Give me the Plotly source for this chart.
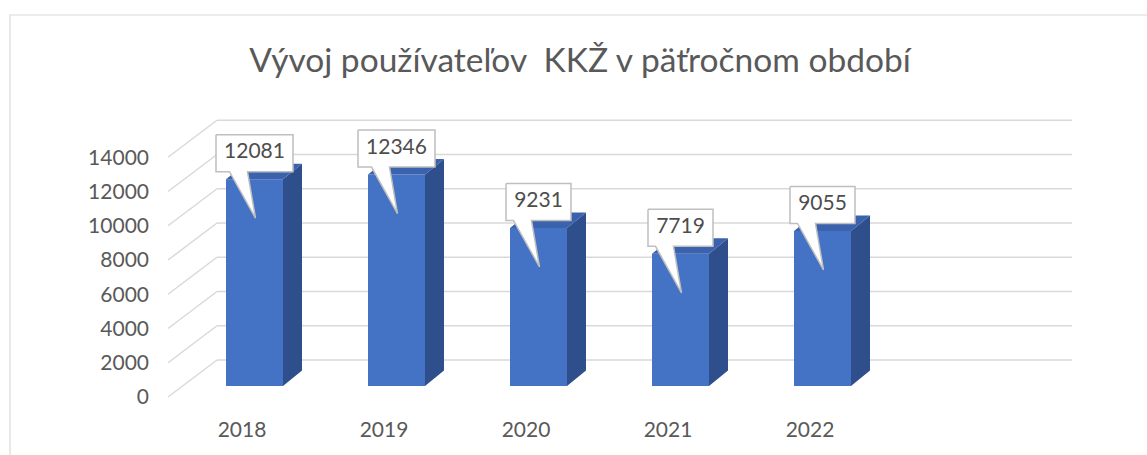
import plotly.graph_objects as go

# ---- data ----
categories = ["2018", "2019", "2020", "2021", "2022"]
values = [12081, 12346, 9231, 7719, 9055]
y_ticks = [0, 2000, 4000, 6000, 8000, 10000, 12000, 14000]
title_text = "Vývoj používateľov  KKŽ v päťročnom období"

# ---- geometry (pixel-derived layout constants) ----
W, H = 1147, 455
PX_PER_CAT = 142.0          # pixels per category unit
UNITS_PER_PX = 58.4         # value units per pixel
X0_PX = 254.5               # pixel x of category 0 centre
Y0_PX = 386.0               # pixel y of value 0 at bar front plane
PLOT_L, PLOT_R, PLOT_T, PLOT_B = 150, 1080, 100, 415

def xu(px):  # pixel distance -> x units
    return px / PX_PER_CAT

def yu(px):  # pixel distance -> y units
    return px * UNITS_PER_PX

x_range = [(PLOT_L - X0_PX) / PX_PER_CAT, (PLOT_R - X0_PX) / PX_PER_CAT]
y_range = [(Y0_PX - PLOT_B) * UNITS_PER_PX, (Y0_PX - PLOT_T) * UNITS_PER_PX]

HALF_W = xu(28.5)           # half bar width
SDX, SDY = xu(19), yu(15.5) # depth offset of bar
BACK_DY = yu(26)            # back wall offset
BACK_X0 = xu(217 - X0_PX)
BACK_X1 = xu(1072 - X0_PX)
FRONT_DY = -yu(11)          # front floor edge offset
FRONT_X0 = xu(168 - X0_PX)
CAT_LABEL_DX = xu(-12.5)

FRONT_C = "#4472C4"
SIDE_C = "#2E4F8C"
TOP_C = "#3A62AD"
GRID_C = "#D9D9D9"
TEXT_C = "#595959"
FONT = "Lato"

idx = list(range(len(categories)))

fig = go.Figure()

# front faces
fig.add_trace(go.Bar(x=idx, y=values, width=2 * HALF_W,
                     marker=dict(color=FRONT_C, line=dict(width=0)),
                     hoverinfo="skip", showlegend=False))

# side faces and top faces
sx, sy, tx, ty = [], [], [], []
for i, v in zip(idx, values):
    r = i + HALF_W
    l = i - HALF_W
    sx += [r, r + SDX, r + SDX, r, r, None]
    sy += [0, SDY, v + SDY, v, 0, None]
    tx += [l, r, r + SDX, l + SDX, l, None]
    ty += [v, v, v + SDY, v + SDY, v, None]
fig.add_trace(go.Scatter(x=sx, y=sy, mode="lines", fill="toself",
                         fillcolor=SIDE_C, line=dict(width=0, color=SIDE_C),
                         hoverinfo="skip", showlegend=False))
fig.add_trace(go.Scatter(x=tx, y=ty, mode="lines", fill="toself",
                         fillcolor=TOP_C, line=dict(width=0, color=TOP_C),
                         hoverinfo="skip", showlegend=False))

# callouts
cx, cy = [], []
for i, v in zip(idx, values):
    txt = str(v)
    hw = xu((12 * len(txt) + 17) / 2)
    top = v + yu(26 + 18.5)
    bot = v + yu(26 - 18.5)
    cx += [i - hw, i + hw, i + hw, i - xu(7), i + xu(1), i - xu(25), i - hw, i - hw, None]
    cy += [top, top, bot, bot, v - yu(39), bot, bot, top, None]
fig.add_trace(go.Scatter(x=cx, y=cy, mode="lines", fill="toself",
                         fillcolor="white", line=dict(width=1.5, color="#BFBFBF"),
                         hoverinfo="skip", showlegend=False))
fig.add_trace(go.Scatter(x=idx, y=[v + yu(26) for v in values], mode="text",
                         text=[str(v) for v in values], textposition="middle center",
                         textfont=dict(family=FONT, size=21, color="#4D4D4D"),
                         hoverinfo="skip", showlegend=False))

# back wall gridlines and side wall diagonals
shapes = []
for t in y_ticks:
    shapes.append(dict(type="line", xref="x", yref="y", layer="below",
                       x0=BACK_X0, x1=BACK_X1, y0=t + BACK_DY, y1=t + BACK_DY,
                       line=dict(color=GRID_C, width=1.5)))
    shapes.append(dict(type="line", xref="x", yref="y", layer="below",
                       x0=FRONT_X0, x1=BACK_X0, y0=t + FRONT_DY, y1=t + BACK_DY,
                       line=dict(color=GRID_C, width=1.5)))

# chart frame
pw, ph = PLOT_R - PLOT_L, PLOT_B - PLOT_T
shapes.append(dict(type="rect", xref="paper", yref="paper", layer="below",
                   x0=(10 - PLOT_L) / pw, x1=(W + 10 - PLOT_L) / pw,
                   y0=(PLOT_B - (H + 10)) / ph, y1=(PLOT_B - 15) / ph,
                   line=dict(color="#D9D9D9", width=1.2), fillcolor="rgba(0,0,0,0)"))

fig.update_layout(
    width=W, height=H,
    margin=dict(l=PLOT_L, r=W - PLOT_R, t=PLOT_T, b=H - PLOT_B, pad=0),
    paper_bgcolor="white", plot_bgcolor="white",
    title=dict(text=title_text, x=580 / W, xanchor="center",
               y=1 - 60 / H, yanchor="middle", yref="container",
               font=dict(family=FONT, size=33.5, color=TEXT_C)),
    xaxis=dict(range=x_range, showgrid=False, zeroline=False, showline=False,
               tickmode="array", tickvals=[i + CAT_LABEL_DX for i in idx],
               ticktext=categories, ticks="",
               tickfont=dict(family=FONT, size=21, color=TEXT_C)),
    yaxis=dict(range=y_range, showgrid=False, zeroline=False, showline=False,
               tickmode="array", tickvals=[t + FRONT_DY for t in y_ticks],
               ticktext=[str(t) for t in y_ticks], ticks="",
               tickfont=dict(family=FONT, size=21, color=TEXT_C)),
    shapes=shapes,
    showlegend=False,
)

fig.write_html("out.html", config={"displayModeBar": False},
               post_script="document.body.style.margin='0';document.body.style.overflow='hidden';")
